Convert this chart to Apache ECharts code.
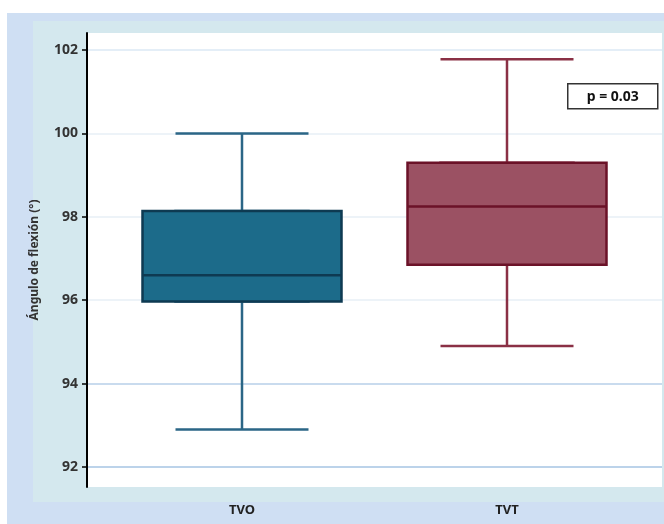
<!DOCTYPE html>
<html>
<head>
<meta charset="utf-8">
<script src="https://cdn.jsdelivr.net/npm/echarts@6/dist/echarts.min.js"></script>
<style>
  html, body { margin: 0; padding: 0; background: #fff; }
  #main { width: 664px; height: 524px; }
</style>
</head>
<body>
<div id="main"></div>
<script>
// datos
let categories = ['TVO', 'TVT'];
let minVals = [92.9, 94.9];
let q1Vals = [95.97, 96.85];
let medianVals = [96.6, 98.25];
let q3Vals = [98.14, 99.3];
let maxVals = [100.0, 101.78];
let yTicks = [92, 94, 96, 98, 100, 102];
let pText = 'p = 0.03';

// colores por grupo
let fillColors = ['#1c6b8a', '#9b5163'];
let boxBorders = ['#0e3a52', '#6b1228'];
let whiskerColors = ['#2b6686', '#8a3045'];

let myChart = echarts.init(document.getElementById('main'));

// bigotes (caja estrecha, queda tapada por la caja ancha)
let whiskerData = categories.map(function (c, i) {
    return {
        value: [minVals[i], q1Vals[i], medianVals[i], q3Vals[i], maxVals[i]],
        itemStyle: { color: fillColors[i], borderColor: whiskerColors[i] }
    };
});
// caja ancha
let boxData = categories.map(function (c, i) {
    return {
        value: [q1Vals[i], q1Vals[i], medianVals[i], q3Vals[i], q3Vals[i]],
        itemStyle: { color: fillColors[i], borderColor: boxBorders[i] }
    };
});

let yMin = 91.52, yMax = 102.41;
let font = '"Noto Sans", sans-serif';

let option = {
    backgroundColor: '#fff',
    animation: false,
    graphic: [
        { type: 'rect', z: -3, silent: true, shape: { x: 7, y: 13, width: 657, height: 511 }, style: { fill: '#cfdff3' } },
        { type: 'rect', z: -2, silent: true, shape: { x: 33, y: 21, width: 631, height: 481 }, style: { fill: '#d4e8ee' } },
        { type: 'rect', z: -1, silent: true, shape: { x: 87, y: 33, width: 575, height: 454 }, style: { fill: '#ffffff' } },
        {
            type: 'group', z: 10, left: 567, top: 83,
            children: [
                { type: 'rect', shape: { x: 0, y: 0, width: 90, height: 25 }, style: { fill: '#fff', stroke: '#333', lineWidth: 1.5 } },
                { type: 'text', x: 45, y: 13, style: { text: pText, fill: '#111', font: 'bold 14px ' + font, align: 'center', verticalAlign: 'middle' } }
            ]
        }
    ],
    grid: [
        { left: 87, right: 2, top: 33, bottom: 37 },
        { left: 109.5, right: 24.5, top: 33, bottom: 37 }
    ],
    xAxis: [
        { gridIndex: 0, type: 'value', show: false },
        {
            gridIndex: 1, type: 'category', data: categories,
            axisLine: { show: false }, axisTick: { show: false },
            axisLabel: { margin: 17, color: '#222', fontSize: 13, fontWeight: 'bold', fontFamily: font }
        },
        { gridIndex: 1, type: 'category', data: categories, show: false }
    ],
    yAxis: [
        {
            gridIndex: 0, type: 'value', min: yMin, max: yMax,
            name: 'Ángulo de flexión (°)',
            nameLocation: 'middle', nameGap: 46,
            nameTextStyle: { color: '#333', fontSize: 12, fontWeight: 'bold', fontFamily: font },
            axisLine: { show: true, lineStyle: { color: '#000', width: 2 } },
            axisTick: { show: true, customValues: yTicks, length: 5, lineStyle: { color: '#000', width: 1.5 } },
            axisLabel: { customValues: yTicks, margin: 9, color: '#333', fontSize: 14, fontWeight: 'bold', fontFamily: font },
            splitLine: { show: true, lineStyle: { color: ['#bcd3ea', '#c9dbee', '#edf3f8', '#edf3f8', '#edf3f8', '#e4eef7'], width: 2 } }
        },
        { gridIndex: 1, type: 'value', min: yMin, max: yMax, show: false }
    ],
    series: [
        {
            type: 'boxplot', xAxisIndex: 2, yAxisIndex: 1,
            boxWidth: [133, 133],
            itemStyle: { borderWidth: 2.5 },
            data: whiskerData
        },
        {
            type: 'boxplot', xAxisIndex: 1, yAxisIndex: 1,
            boxWidth: [199, 199],
            itemStyle: { borderWidth: 2.5 },
            data: boxData
        }
    ]
};

myChart.setOption(option);
</script>
</body>
</html>
